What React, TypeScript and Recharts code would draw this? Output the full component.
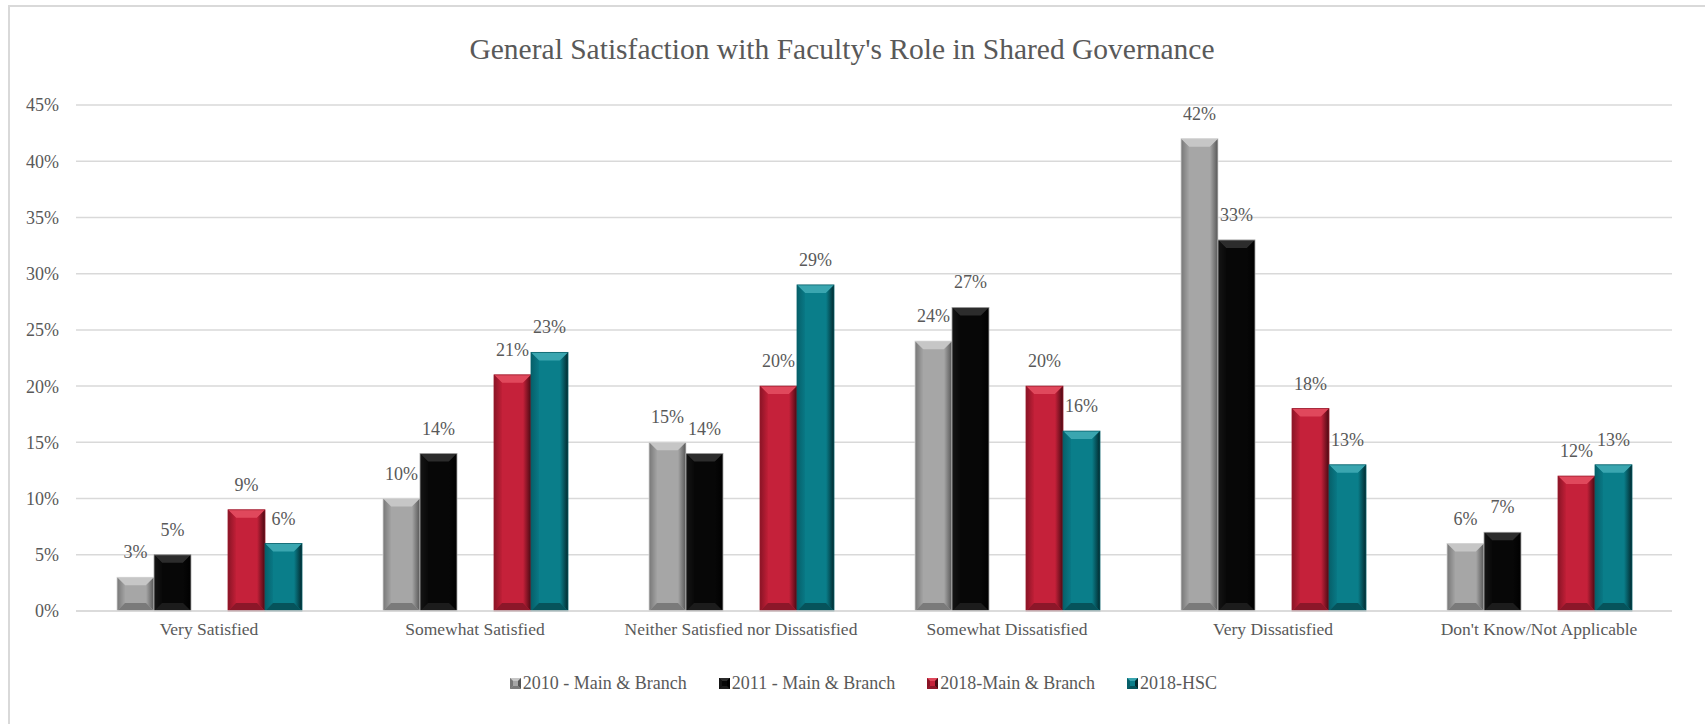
import React from 'react';
import { BarChart, Bar, XAxis, YAxis, CartesianGrid, Legend, LabelList } from 'recharts';

const categories = [
  'Very Satisfied',
  'Somewhat Satisfied',
  'Neither Satisfied nor Dissatisfied',
  'Somewhat Dissatisfied',
  'Very Dissatisfied',
  "Don't Know/Not Applicable",
];
const s2010 = [3, 10, 15, 24, 42, 6];
const s2011 = [5, 14, 14, 27, 33, 7];
const s2018Main = [9, 21, 20, 20, 18, 12];
const s2018HSC = [6, 23, 29, 16, 13, 13];
const yTicks = [0, 5, 10, 15, 20, 25, 30, 35, 40, 45];

const seriesNames = ['2010 - Main & Branch', '2011 - Main & Branch', '2018-Main & Branch', '2018-HSC'];

const data = categories.map((c, i) => ({
  category: c,
  a2010: s2010[i],
  a2011: s2011[i],
  blank: null,
  a2018m: s2018Main[i],
  a2018h: s2018HSC[i],
}));

type Pal = { id: string; face: string; top: string; left: string; leftEnd: string; right: string; bottom: string; stroke: string };

const PAL: Record<string, Pal> = {
  gray: { id: 'g', face: '#a6a6a6', top: '#c6c6c6', left: '#777777', leftEnd: '#a3a3a3', right: '#555555', bottom: '#7a7a7a', stroke: '#d6d6d6' },
  black: { id: 'k', face: '#070707', top: '#2c2c2c', left: '#151515', leftEnd: '#090909', right: '#000000', bottom: '#1c1c1c', stroke: '#a8a8a8' },
  red: { id: 'r', face: '#c5213a', top: '#e0485c', left: '#8a1426', leftEnd: '#c01f37', right: '#4a0912', bottom: '#8c1729', stroke: '#9a1a2c' },
  teal: { id: 't', face: '#0a7e8a', top: '#3aa6b0', left: '#06606a', leftEnd: '#097885', right: '#022a2f', bottom: '#06535b', stroke: '#07606a' },
};

const palByName: Record<string, Pal> = {
  [seriesNames[0]]: PAL.gray,
  [seriesNames[1]]: PAL.black,
  [seriesNames[2]]: PAL.red,
  [seriesNames[3]]: PAL.teal,
};

const BevelBar = (props: any) => {
  const { x, y, width, height, pal } = props as { x: number; y: number; width: number; height: number; pal: Pal };
  if (!height || height <= 0 || !width) return null;
  const b = Math.min(8, width / 4, height / 2);
  const x2 = x + width;
  const y2 = y + height;
  const gl = `bvl-l-${pal.id}`;
  const gr = `bvl-r-${pal.id}`;
  return (
    <g>
      <defs>
        <linearGradient id={gl} x1="0" y1="0" x2="1" y2="0">
          <stop offset="0%" stopColor={pal.left} />
          <stop offset="100%" stopColor={pal.leftEnd} />
        </linearGradient>
        <linearGradient id={gr} x1="0" y1="0" x2="1" y2="0">
          <stop offset="0%" stopColor={pal.face} />
          <stop offset="100%" stopColor={pal.right} />
        </linearGradient>
      </defs>
      <rect x={x} y={y} width={width} height={height} fill={pal.face} />
      <polygon points={`${x},${y} ${x2},${y} ${x2 - b},${y + b} ${x + b},${y + b}`} fill={pal.top} />
      <polygon points={`${x},${y} ${x + b},${y + b} ${x + b},${y2 - b} ${x},${y2}`} fill={`url(#${gl})`} />
      <polygon points={`${x2},${y} ${x2},${y2} ${x2 - b},${y2 - b} ${x2 - b},${y + b}`} fill={`url(#${gr})`} />
      <polygon points={`${x},${y2} ${x + b},${y2 - b} ${x2 - b},${y2 - b} ${x2},${y2}`} fill={pal.bottom} />
      <rect x={x} y={y} width={width} height={height} fill="none" stroke={pal.stroke} strokeWidth={0.8} />
    </g>
  );
};

const FONT = '"Liberation Serif", "Times New Roman", serif';
const TEXT = '#595959';

const LegendIcon = ({ pal }: { pal: Pal }) => (
  <svg width={11} height={11} style={{ display: 'block' }}>
    <rect x={0} y={0} width={11} height={11} fill={pal.face} />
    <polygon points="0,0 11,0 8,3 3,3" fill={pal.top} />
    <polygon points="0,0 3,3 3,8 0,11" fill={pal.left} />
    <polygon points="11,0 11,11 8,8 8,3" fill={pal.right} />
    <polygon points="0,11 3,8 8,8 11,11" fill={pal.bottom} />
  </svg>
);

const renderLegend = (props: any) => {
  const payload = (props.payload || [])
    .filter((p: any) => p.type !== 'none' && seriesNames.indexOf(p.value) >= 0)
    .slice()
    .sort((a: any, b: any) => seriesNames.indexOf(a.value) - seriesNames.indexOf(b.value));
  return (
    <div style={{ display: 'flex', justifyContent: 'center', alignItems: 'center', fontFamily: FONT, fontSize: 18, color: TEXT, lineHeight: '22px', paddingLeft: 22 }}>
      {payload.map((p: any, i: number) => (
        <div key={p.value} style={{ display: 'flex', alignItems: 'center', marginRight: i < payload.length - 1 ? 32 : 0 }}>
          <LegendIcon pal={palByName[p.value]} />
          <span style={{ marginLeft: 2 }}>{p.value}</span>
        </div>
      ))}
    </div>
  );
};

const pct = (v: any) => (v === null || v === undefined ? '' : `${v}%`);

export default function App() {
  return (
    <div style={{ position: 'absolute', left: 0, top: 0, width: 1705, height: 724, background: '#fff', overflow: 'hidden' }}>
      <div style={{ position: 'absolute', left: 8, top: 5, width: 1720, height: 740, border: '2px solid #d9d9d9', boxSizing: 'border-box' }} />
      <div style={{ position: 'absolute', left: 0, top: 29, width: 1684, textAlign: 'center', fontFamily: FONT, fontSize: 29.5, color: TEXT, lineHeight: '40px' }}>
        General Satisfaction with Faculty's Role in Shared Governance
      </div>
      <div style={{ position: 'absolute', left: 0, top: 0 }}>
        <BarChart
          width={1705}
          height={724}
          data={data}
          margin={{ top: 105, right: 33, bottom: 83, left: 0 }}
          barCategoryGap={41}
          barGap={0}
        >
          <CartesianGrid vertical={false} stroke="#d9d9d9" strokeWidth={1.5} />
          <XAxis
            dataKey="category"
            height={30}
            tickLine={false}
            axisLine={{ stroke: '#d9d9d9', strokeWidth: 1.5 }}
            tickSize={0}
            tickMargin={12}
            interval={0}
            tick={{ fill: TEXT, fontFamily: FONT, fontSize: 17.5 }}
          />
          <YAxis
            width={76}
            domain={[0, 45]}
            ticks={yTicks}
            tickFormatter={(v: number) => `${v}%`}
            tickLine={false}
            axisLine={false}
            tickSize={0}
            tickMargin={17}
            tick={{ fill: TEXT, fontFamily: FONT, fontSize: 18 }}
          />
          <Legend
            layout="vertical"
            verticalAlign="middle"
            align="center"
            itemSorter={null as any}
            content={renderLegend}
            wrapperStyle={{ top: 672, left: 0, width: 1705 }}
          />
          <Bar dataKey="a2010" name={seriesNames[0]} fill={PAL.gray.face} isAnimationActive={false} shape={(p: any) => <BevelBar {...p} pal={PAL.gray} />}>
            <LabelList dataKey="a2010" position="top" offset={19} formatter={pct} style={{ fill: TEXT, fontFamily: FONT, fontSize: 18 }} />
          </Bar>
          <Bar dataKey="a2011" name={seriesNames[1]} fill={PAL.black.face} isAnimationActive={false} shape={(p: any) => <BevelBar {...p} pal={PAL.black} />}>
            <LabelList dataKey="a2011" position="top" offset={19} formatter={pct} style={{ fill: TEXT, fontFamily: FONT, fontSize: 18 }} />
          </Bar>
          <Bar dataKey="blank" name="blank" legendType="none" fill="transparent" isAnimationActive={false} />
          <Bar dataKey="a2018m" name={seriesNames[2]} fill={PAL.red.face} isAnimationActive={false} shape={(p: any) => <BevelBar {...p} pal={PAL.red} />}>
            <LabelList dataKey="a2018m" position="top" offset={19} formatter={pct} style={{ fill: TEXT, fontFamily: FONT, fontSize: 18 }} />
          </Bar>
          <Bar dataKey="a2018h" name={seriesNames[3]} fill={PAL.teal.face} isAnimationActive={false} shape={(p: any) => <BevelBar {...p} pal={PAL.teal} />}>
            <LabelList dataKey="a2018h" position="top" offset={19} formatter={pct} style={{ fill: TEXT, fontFamily: FONT, fontSize: 18 }} />
          </Bar>
        </BarChart>
      </div>
    </div>
  );
}
